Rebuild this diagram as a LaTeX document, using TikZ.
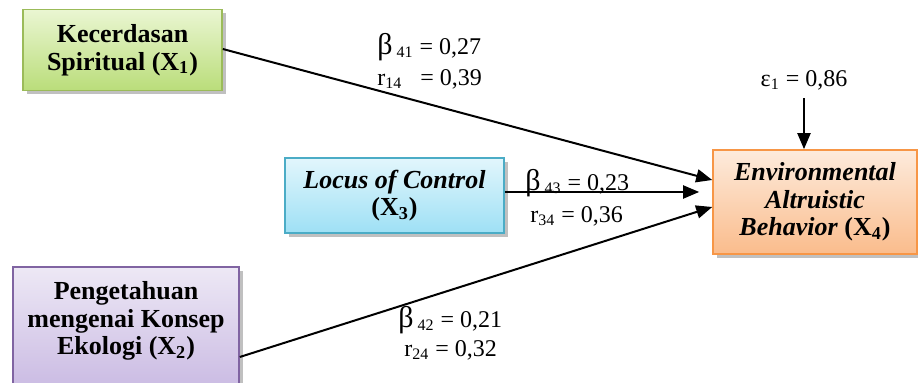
\documentclass[tikz,border=0pt]{standalone}
\usepackage{fontspec}
\setmainfont{Liberation Serif}
\usetikzlibrary{arrows.meta,shadows,calc}
\definecolor{gtop}{RGB}{234,246,210}
\definecolor{gbot}{RGB}{186,221,122}
\definecolor{gdr}{RGB}{155,187,89}
\definecolor{ctop}{RGB}{226,246,252}
\definecolor{cbot}{RGB}{158,224,245}
\definecolor{cdr}{RGB}{75,172,198}
\definecolor{otop}{RGB}{253,235,220}
\definecolor{obot}{RGB}{250,188,140}
\definecolor{odr}{RGB}{247,150,70}
\definecolor{ptop}{RGB}{237,232,245}
\definecolor{pbot}{RGB}{200,184,226}
\definecolor{pdr}{RGB}{128,100,162}
\tikzset{
  varbox/.style={draw, line width=0.8pt, align=center, inner sep=2pt,
    font=\bfseries\fontsize{13}{13.8}\selectfont,
    drop shadow={shadow xshift=1.8pt, shadow yshift=-1.8pt, opacity=0.35, fill=black!70}},
  coef/.style={font=\fontsize{12}{12}\selectfont, inner sep=0pt, anchor=west},
  arr/.style={line width=1pt, -{Triangle[length=8pt,width=6.5pt]}},
}
\newcommand{\bgr}{{\fontsize{15}{15}\selectfont β}}
\begin{document}
\begin{tikzpicture}[x=0.5pt,y=-0.5pt]
\clip (0,0) rectangle (918,383);
\fill[white] (0,0) rectangle (918,383);
\node[varbox, draw=gdr, top color=gtop, bottom color=gbot,
      minimum width=99.5pt, minimum height=40.5pt] (X1) at (122.5,50)
  {Kecerdasan\\Spiritual (X\textsubscript{1})};
\node[varbox, draw=cdr, top color=ctop, bottom color=cbot,
      minimum width=109.5pt, minimum height=37.5pt] (X3) at (394.5,195.5)
  {\textit{Locus of Control}\\(X\textsubscript{3})};
\node[varbox, draw=odr, top color=otop, bottom color=obot,
      minimum width=102pt, minimum height=52pt] (X4) at (815,202)
  {\textit{Environmental}\\\textit{Altruistic}\\\textit{Behavior} (X\textsubscript{4})};
\node[varbox, draw=pdr, top color=ptop, bottom color=pbot,
      minimum width=113pt, minimum height=65pt] (X2) at (126,332)
  {Pengetahuan\\mengenai Konsep\\Ekologi (X\textsubscript{2})\\\mbox{}};
\node[font=\fontsize{12}{12}\selectfont, inner sep=1pt] (e) at (804,80)
  {ε\textsubscript{1} = 0,86};
\draw[arr] ([yshift=0.5pt]X1.east) -- ([yshift=11pt]X4.west);
\draw[arr] ([yshift=1.75pt]X3.east) -- ([xshift=-6.5pt,yshift=5pt]X4.west);
\draw[arr] ([yshift=-12.5pt]X2.east) -- ([yshift=-2.5pt]X4.west);
\draw[arr] ([yshift=-3pt]e.south) -- (e.south |- X4.north);
\node[coef] (b41) at (377,47) {\bgr\,\textsubscript{41} = 0,27};
\node[coef] (r14) at (377,79) {r\textsubscript{14}\ \ \ = 0,39};
\node[coef] (b43) at (525,183) {\bgr\,\textsubscript{43} = 0,23};
\node[coef] (r34) at (530,216) {r\textsubscript{34}\ = 0,36};
\node[coef] (b42) at (398,320) {\bgr\,\textsubscript{42} = 0,21};
\node[coef] (r24) at (404,350) {r\textsubscript{24} = 0,32};
\end{tikzpicture}
\end{document}
